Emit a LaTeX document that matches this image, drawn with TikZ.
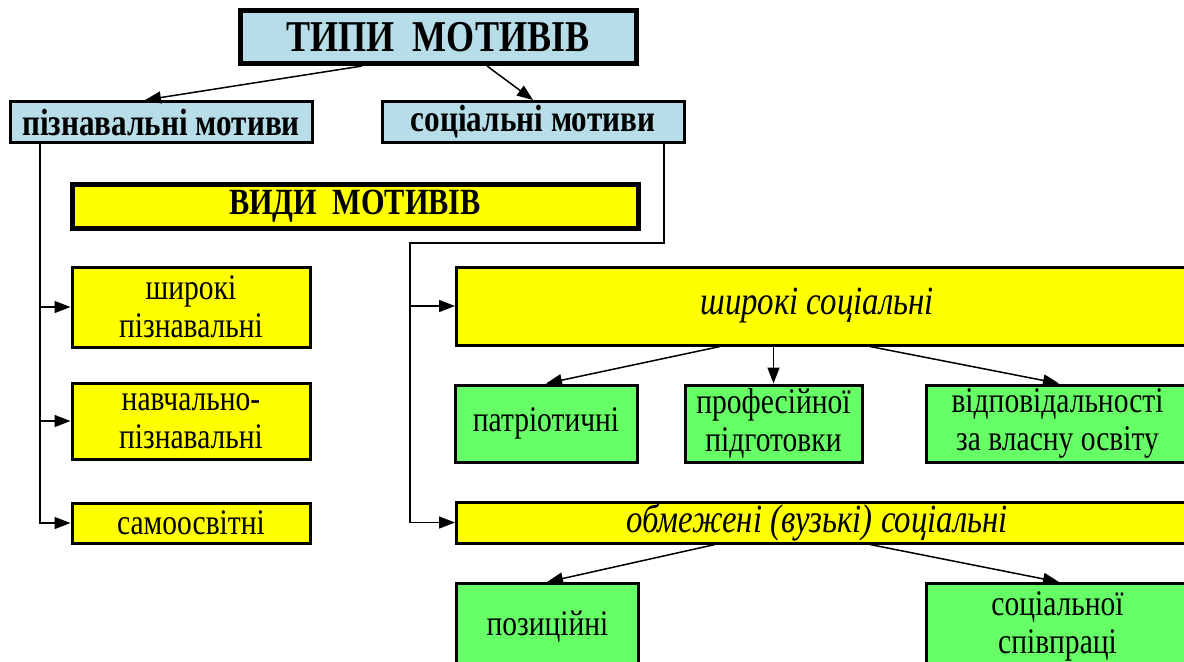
\documentclass[tikz,border=0pt]{standalone}
\usepackage{fontspec}
\setmainfont[FakeStretch=0.82]{Liberation Serif}
\usetikzlibrary{positioning, arrows.meta, calc}
\definecolor{paleblue}{rgb}{0.718,0.871,0.910}
\definecolor{lemon}{rgb}{1,1,0}
\definecolor{mint}{rgb}{0.4,1,0.4}

\begin{document}
\begin{tikzpicture}[
  x=0.5pt, y=-0.5pt,
  every node/.style={
    draw,
    line width=1.5pt,
    inner sep=0mm,
    align=center,
    font=\fontsize{18}{19}\selectfont
  },
  typebox/.style={fill=paleblue, font=\fontsize{19}{21}\selectfont\bfseries},
  kindbox/.style={fill=lemon},
  subbox/.style={fill=mint},
  caption/.style={draw=none, fill=none, font=\fontsize{20}{22}\selectfont\itshape},
  link/.style={line width=0.75pt, -{Triangle[length=8pt,width=6pt]}},
]

\useasboundingbox (0,0) rectangle (1184,661);
\clip (0,0) rectangle (1184,661);

\node[typebox, line width=2.5pt, minimum width=198pt, minimum height=26.5pt,
  font=\fontsize{22}{24}\selectfont\bfseries] (types) at (438,37) {ТИПИ\ \ МОТИВІВ};
\node[typebox, minimum width=151pt, minimum height=20.5pt] (cogn) at (161,122) {пізнавальні мотиви};
\node[typebox, minimum width=151pt, minimum height=20.5pt] (soc) at (533,122) {соціальні мотиви};

\node[kindbox, line width=2.5pt, minimum width=283pt, minimum height=22pt,
  font=\fontsize{18.5}{21}\selectfont\bfseries] (kinds) at (355,206) {ВИДИ\ \ МОТИВІВ};

\node[kindbox, minimum width=119pt, minimum height=40pt] (widecogn) at (191,307) {широкі\\пізнавальні};
\node[kindbox, minimum width=119pt, minimum height=38pt] (studycogn) at (191,421) {навчально-\\пізнавальні};
\node[kindbox, minimum width=119pt, minimum height=20pt] (selfedu) at (191,523) {самоосвітні};

\node[kindbox, anchor=west, minimum width=375pt, minimum height=39pt] (widesoc) at (455,306) {};
\node[caption] (widesoctext) at (817,306) {широкі соціальні};
\node[subbox, minimum width=91pt, minimum height=38.5pt] (patr) at (546,423.5) {патріотичні};
\node[subbox, minimum width=88.5pt, minimum height=38.5pt] (prof) at (773.5,423.5) {професійної\\підготовки};
\node[subbox, anchor=west, minimum width=131pt, minimum height=38.5pt] (resp) at (925,423.5) {відповідальності\\за власну освіту};

\node[kindbox, anchor=west, minimum width=375pt, minimum height=20.5pt] (narrowsoc) at (455,522.5) {};
\node[caption] (narrowsoctext) at (817,522.5) {обмежені (вузькі) соціальні};
\node[subbox, anchor=north west, minimum width=91pt, minimum height=43pt] (posit) at (455,582) {позиційні};
\node[subbox, anchor=north west, minimum width=131pt, minimum height=43pt] (coop) at (925,582) {соціальної\\співпраці};

\draw[link] ([xshift=-38pt]types.south) -- ([xshift=-8pt]cogn.north);
\draw[link] ([xshift=24.5pt]types.south) -- (soc.north);

\coordinate (cogntrunk) at ([xshift=-60.5pt]cogn.south);
\draw[link] (cogntrunk) |- (selfedu.west);
\draw[link] (widecogn.west -| cogntrunk) -- (widecogn.west);
\draw[link] (studycogn.west -| cogntrunk) -- (studycogn.west);

\coordinate (soctrunk) at ([xshift=65.5pt]soc.south);
\coordinate (socbend) at (410,243);
\draw[link] (soctrunk) |- (socbend) |- (narrowsoc.west);
\draw[link] (widesoc.west -| socbend) -- (widesoc.west);

\draw[link] ([xshift=132.5pt]widesoc.south west) -- (patr.north);
\draw[link] (widesoc.south -| prof.north) -- (prof.north);
\draw[link] ([xshift=207.5pt]widesoc.south west) -- ([xshift=67pt]resp.north west);
\draw[link] ([xshift=130pt]narrowsoc.south west) -- ([xshift=46pt]posit.north west);
\draw[link] ([xshift=207.5pt]narrowsoc.south west) -- ([xshift=67pt]coop.north west);

\end{tikzpicture}
\end{document}
